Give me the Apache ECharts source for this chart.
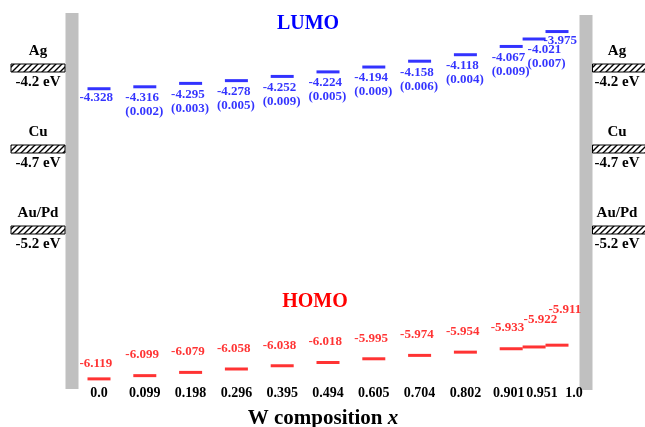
<!DOCTYPE html>
<html><head><meta charset="utf-8">
<script src="https://cdn.jsdelivr.net/npm/echarts@6/dist/echarts.min.js"></script>
<style>html,body{margin:0;padding:0;background:#fff}#c{width:645px;height:427px}</style>
</head><body><div id="c"></div>
<script>
// ---- data ----
const compositions = ['0.0','0.099','0.198','0.296','0.395','0.494','0.605','0.704','0.802','0.901','0.951','1.0'];
const lumo = [-4.328,-4.316,-4.295,-4.278,-4.252,-4.224,-4.194,-4.158,-4.118,-4.067,-4.021,-3.975];
const oscStrength = [null,0.002,0.003,0.005,0.009,0.005,0.009,0.006,0.004,0.009,0.007,null];
const homo = [-6.119,-6.099,-6.079,-6.058,-6.038,-6.018,-5.995,-5.974,-5.954,-5.933,-5.922,-5.911];
const electrodes = ['Ag','Cu','Au/Pd'];
const workFunctions = [-4.2,-4.7,-5.2];

// ---- layout helpers ----
const FONT = "'Liberation Serif','Times New Roman',serif";
const BLUE = '#0000ff', RED = '#ff0000';
// the last two compositions sit at half spacing on the axis
const slotOf = i => i < 10 ? 2 * i : 18 + (i - 9);
const nSlots = slotOf(compositions.length - 1) + 1;
const axisCats = new Array(nSlots).fill('');
compositions.forEach((c, i) => { axisCats[slotOf(i)] = c; });

const lumoLabelPos = i => i === 0 ? [-8, 3] : i === 10 ? [5, 5.5] : i === 11 ? [-2, 3.5] : [-8, 5.5];
const homoLabelPos = i => i === 0 ? [-8, -7] : i === 10 ? [1, -19] : i === 11 ? [3, -27] : i === 9 ? [-9, -13] : [-8, -12];

const lumoData = lumo.map((v, i) => ({
  value: [slotOf(i), v],
  label: {
    position: lumoLabelPos(i), align: 'left', verticalAlign: 'top',
    formatter: () => v.toFixed(3) + (oscStrength[i] != null ? '\n(' + oscStrength[i].toFixed(3) + ')' : '')
  }
}));
const homoData = homo.map((v, i) => ({
  value: [slotOf(i), v],
  label: {
    position: homoLabelPos(i), align: 'left', verticalAlign: 'bottom',
    formatter: () => v.toFixed(3)
  }
}));

const chart = echarts.init(document.getElementById('c'), null, {renderer: 'canvas'});
const labelBase = {show: true, fontFamily: FONT, fontWeight: 'bold', fontSize: 13, lineHeight: 14};
const tickFont = {fontFamily: FONT, fontWeight: 'bold', fontSize: 14, color: '#000'};

chart.setOption({
  animation: false,
  backgroundColor: '#ffffff',
  grid: {left: 87.55, right: 76.55, top: 11.3, bottom: 43.1, containLabel: false, outerBoundsMode: 'none'},
  xAxis: {
    type: 'category', data: axisCats, boundaryGap: true,
    axisLine: {show: false}, axisTick: {show: false}, splitLine: {show: false},
    axisLabel: Object.assign({interval: 0, margin: 2, hideOverlap: false,
      formatter: v => v === '0.951' ? '{s|' + v + '}' : v === '1.0' ? '{t|' + v + '}' : v === '0.901' ? '{u|' + v + '}' : v,
      rich: {
        s: Object.assign({padding: [0, 0, 0, 16]}, tickFont),
        t: Object.assign({padding: [0, 0, 0, 34]}, tickFont),
        u: Object.assign({padding: [0, 5, 0, 0]}, tickFont)
      }}, tickFont),
    name: '{a|W composition }{b|x}', nameLocation: 'middle', nameGap: 24,
    nameTextStyle: {padding: [0, 10, 0, 0], rich: {
      a: {fontFamily: FONT, fontWeight: 'bold', fontSize: 21, color: '#000'},
      b: {fontFamily: FONT, fontWeight: 'bold', fontStyle: 'italic', fontSize: 21, color: '#000'}
    }}
  },
  yAxis: {type: 'value', min: -6.15, max: -3.85, show: false},
  series: [
    {name: 'LUMO', type: 'scatter', symbol: 'rect', symbolSize: [23, 3],
     itemStyle: {color: BLUE}, label: Object.assign({color: BLUE}, labelBase), data: lumoData},
    {name: 'HOMO', type: 'scatter', symbol: 'rect', symbolSize: [23, 3],
     itemStyle: {color: RED}, label: Object.assign({color: RED}, labelBase), data: homoData}
  ]
});

// hatch pattern
const pc = document.createElement('canvas');
pc.width = 6; pc.height = 6;
const g = pc.getContext('2d');
g.fillStyle = '#fff'; g.fillRect(0, 0, 6, 6);
g.strokeStyle = '#000'; g.lineWidth = 1.4;
g.beginPath();
g.moveTo(-1, 7); g.lineTo(7, -1);
g.moveTo(-4, 4); g.lineTo(4, -4);
g.moveTo(2, 10); g.lineTo(10, 2);
g.stroke();
const hatch = {image: pc, repeat: 'repeat'};

const graphics = [
  {type: 'rect', shape: {x: 65.5, y: 13, width: 13, height: 376}, style: {fill: '#c0c0c0'}, z: 0},
  {type: 'rect', shape: {x: 579.5, y: 15, width: 13, height: 375}, style: {fill: '#c0c0c0'}, z: 0},
  {type: 'text', x: 308, y: 24, style: {text: 'LUMO', font: 'bold 20px ' + FONT, fill: BLUE, textAlign: 'center', textVerticalAlign: 'middle'}},
  {type: 'text', x: 315, y: 302, style: {text: 'HOMO', font: 'bold 20px ' + FONT, fill: RED, textAlign: 'center', textVerticalAlign: 'middle'}}
];
electrodes.forEach((name, k) => {
  const y = chart.convertToPixel({yAxisIndex: 0}, workFunctions[k]);
  const wf = workFunctions[k].toFixed(1) + ' eV';
  [[11, 54, 38], [592.5, 56, 617]].forEach(([bx, bw, tx]) => {
    graphics.push({type: 'rect', shape: {x: bx, y: y - 4, width: bw, height: 8},
      style: {fill: hatch, stroke: '#000', lineWidth: 1}, z: 5});
    graphics.push({type: 'text', x: tx, y: y - 17, style: {text: name, font: 'bold 15px ' + FONT, fill: '#000', textAlign: 'center', textVerticalAlign: 'middle'}, z: 5});
    graphics.push({type: 'text', x: tx, y: y + 14.5, style: {text: wf, font: 'bold 15px ' + FONT, fill: '#000', textAlign: 'center', textVerticalAlign: 'middle'}, z: 5});
  });
});
chart.setOption({graphic: graphics});
</script>
</body></html>
